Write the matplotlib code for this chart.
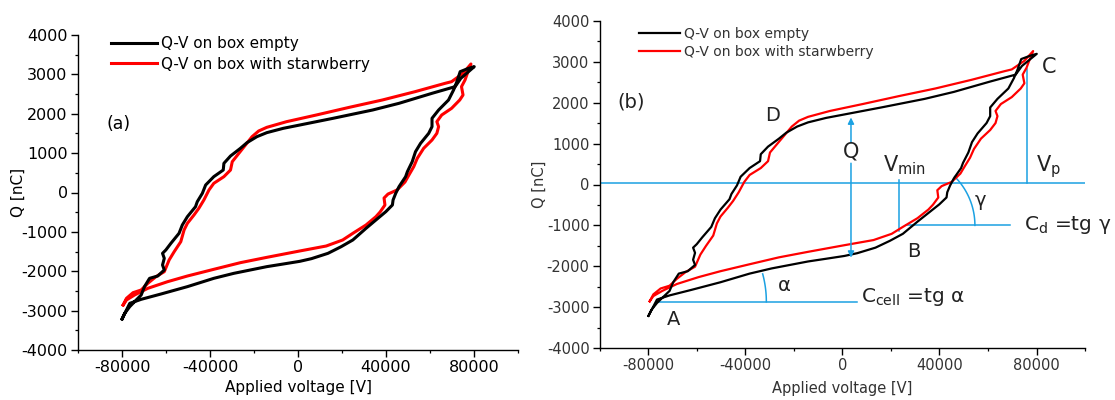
import numpy as np
import matplotlib
matplotlib.use('Agg')
import matplotlib.pyplot as plt
from matplotlib.ticker import MultipleLocator

plt.rcParams['font.family'] = ['DejaVu Sans']
plt.rcParams['axes.unicode_minus'] = False
plt.rcParams['mathtext.fontset'] = 'dejavusans'

# ---------------- data (V in volts, Q in nC) ----------------
empty_v = [-80000, -76500, -71300, -62300, -50300, -38300, -29200, -20200, -14200, -6700,
           800, 6100, 13600, 19600, 24900, 30900, 35400, 39900, 42900, 43200,
           44400, 45900, 48900, 49700, 51900, 53400, 55700, 59400, 60900, 60900,
           63900, 68400, 70700, 72200, 73700, 77500, 80100, 74000, 71400, 60900,
           45900, 33900, 15900, 800, -6700, -14200, -18700, -23200, -26200, -30700,
           -33700, -34000, -38300, -42000, -43500, -45800, -46600, -50300, -52600, -54100,
           -57800, -60100, -61600, -60800, -61600, -60800, -63800, -67500, -69800, -71300,
           -74300, -76500, -78800, -80000]
empty_q = [-3213, -2815, -2713, -2578, -2391, -2180, -2053, -1951, -1883, -1816,
           -1748, -1680, -1545, -1376, -1206, -910, -698, -487, -317, -190,
           -21, 148, 402, 529, 783, 1037, 1249, 1503, 1672, 1884,
           2095, 2349, 2603, 2815, 3069, 3153, 3196, 2900, 2688, 2519,
           2265, 2095, 1884, 1714, 1630, 1520, 1418, 1266, 1122, 927,
           741, 571, 402, 190, -21, -233, -360, -614, -825, -1037,
           -1291, -1460, -1545, -1672, -1841, -1968, -2121, -2180, -2391, -2603,
           -2772, -2899, -3069, -3213]

straw_v = [-79500, -78000, -74300, -68300, -59300, -50300, -38300, -26200, -14200, 800,
           12800, 20300, 24900, 30900, 35400, 37300, 39500, 39100, 40900, 45000,
           48600, 50400, 52600, 54200, 57100, 60900, 63100, 63900, 63100, 65300,
           69800, 73500, 75000, 74300, 75900, 76700, 78600, 75000, 69800, 66800,
           53200, 38300, 23300, 8300, -5200, -14200, -17900, -20900, -23900, -26900,
           -29900, -30700, -33700, -38300, -40500, -42800, -45100, -47300, -50300, -51800,
           -53300, -56300, -58600, -60800, -64600, -68300, -71300, -75000, -78000, -79500]
straw_q = [-2857, -2730, -2603, -2434, -2265, -2121, -1951, -1782, -1647, -1485,
           -1359, -1206, -1037, -825, -614, -495, -318, -140, -39, 63,
           266, 444, 656, 868, 1122, 1333, 1503, 1672, 1799, 1968,
           2138, 2349, 2476, 2688, 2857, 2984, 3264, 3026, 2815, 2772,
           2561, 2349, 2163, 1968, 1799, 1655, 1562, 1418, 1206, 995,
           783, 571, 402, 233, 63, -190, -402, -571, -783, -952,
           -1249, -1503, -1714, -2011, -2138, -2307, -2476, -2544, -2688, -2857]

series_labels = ['Q-V on box empty', 'Q-V on box with starwberry']
series_colors = ['black', '#ff0000']
x_ticks = [-80000, -40000, 0, 40000, 80000]
y_ticks = [-4000, -3000, -2000, -1000, 0, 1000, 2000, 3000, 4000]
x_label = 'Applied voltage [V]'
y_label = 'Q [nC]'

BLUE = '#1ba1e2'

fig = plt.figure(figsize=(11.15, 4.0), dpi=100)
ax_a = fig.add_axes([0.0700, 0.125, 0.3946, 0.7875])
ax_b = fig.add_axes([0.5381, 0.130, 0.4350, 0.8175])


def style_axes(ax, fs, lfs, lbl_color, ylab_x, xlab_y):
    ax.set_xlim(-100000, 100000)
    ax.set_ylim(-4000, 4000)
    ax.set_xticks(x_ticks)
    ax.set_yticks(y_ticks)
    ax.set_xticklabels([str(t) for t in x_ticks])
    ax.set_yticklabels([str(t) for t in y_ticks])
    ax.xaxis.set_minor_locator(MultipleLocator(20000))
    ax.yaxis.set_minor_locator(MultipleLocator(500))
    for s in ['top', 'right']:
        ax.spines[s].set_visible(False)
    for s in ['left', 'bottom']:
        ax.spines[s].set_linewidth(1.0)
    ax.tick_params(which='major', direction='out', length=5, width=1.0,
                   labelsize=fs, labelcolor=lbl_color, pad=2.5)
    ax.tick_params(which='minor', direction='out', length=2.5, width=0.9)
    ax.set_xlabel(x_label, fontsize=lfs, color=lbl_color)
    ax.set_ylabel(y_label, fontsize=lfs, color=lbl_color)
    ax.yaxis.set_label_coords(ylab_x, 0.5)
    ax.xaxis.set_label_coords(0.5, xlab_y)


# ---------------- panel (a) ----------------
ax_a.plot(empty_v, empty_q, color=series_colors[0], lw=2.2, label=series_labels[0],
          solid_joinstyle='round', zorder=3)
ax_a.plot(straw_v, straw_q, color=series_colors[1], lw=2.2, label=series_labels[1],
          solid_joinstyle='round', zorder=2)
style_axes(ax_a, 11.5, 11, 'black', -0.118, -0.095)
ax_a.legend(loc='upper left', bbox_to_anchor=(0.075, 0.997), frameon=False,
            fontsize=11, handlelength=3.0, handletextpad=0.3, labelspacing=0.38,
            borderpad=0, borderaxespad=0)
ax_a.text(-81400, 1740, '(a)', fontsize=12.5, ha='center', va='center')

# ---------------- panel (b) ----------------
ax_b.plot(empty_v, empty_q, color=series_colors[0], lw=1.6, label=series_labels[0],
          solid_joinstyle='round', zorder=3)
ax_b.plot(straw_v, straw_q, color=series_colors[1], lw=1.6, label=series_labels[1],
          solid_joinstyle='round', zorder=2)
style_axes(ax_b, 10.5, 10.5, '#333333', -0.109, -0.10)
ax_b.legend(loc='upper left', bbox_to_anchor=(0.08, 0.982), frameon=False,
            fontsize=10, handlelength=3.0, handletextpad=0.25, labelspacing=0.3,
            borderpad=0, borderaxespad=0, labelcolor='#333333')

lw_b = 1.1
# reference lines
ax_b.axhline(45, color=BLUE, lw=lw_b, zorder=1)
ax_b.plot([76100, 76100], [45, 2820], color=BLUE, lw=lw_b, zorder=1)
ax_b.plot([23300, 23300], [120, -1130], color=BLUE, lw=lw_b, zorder=1)
ax_b.plot([26200, 69100], [-1000, -1000], color=BLUE, lw=lw_b, zorder=1)
ax_b.plot([-75900, 5900], [-2870, -2870], color=BLUE, lw=lw_b, zorder=1)

# Q double arrow (split by label)
ax_b.annotate('', xy=(3500, 1640), xytext=(3500, 1020),
              arrowprops=dict(arrowstyle='-|>', color=BLUE, lw=lw_b,
                              mutation_scale=9, shrinkA=0, shrinkB=0))
ax_b.annotate('', xy=(3500, -1790), xytext=(3500, 520),
              arrowprops=dict(arrowstyle='-|>', color=BLUE, lw=lw_b,
                              mutation_scale=9, shrinkA=0, shrinkB=0))


def draw_arc(ax, center, radius_v, t1, t2):
    tr = ax.transData
    c = tr.transform(center)
    r = tr.transform((center[0] + radius_v, center[1]))[0] - c[0]
    th = np.deg2rad(np.linspace(t1, t2, 40))
    pts = np.column_stack([c[0] + r * np.cos(th), c[1] + r * np.sin(th)])
    d = tr.inverted().transform(pts)
    ax.plot(d[:, 0], d[:, 1], color=BLUE, lw=lw_b, zorder=1)


draw_arc(ax_b, (-75900, -2870), 44500, 0, 15)
draw_arc(ax_b, (26200, -1000), 28400, 0, 45)

tc = '#222222'
ax_b.text(-93000, 2022, '(b)', fontsize=14, ha='left', va='center', color=tc)
ax_b.text(-28900, 1695, 'D', fontsize=14, ha='center', va='center', color=tc)
ax_b.text(3500, 797, 'Q', fontsize=15, ha='center', va='center', color=tc)
ax_b.text(16500, 470, r'$\mathregular{V_{min}}$', fontsize=15, ha='left', va='center', color=tc)
ax_b.text(79700, 430, r'$\mathregular{V_{p}}$', fontsize=15, ha='left', va='center', color=tc)
ax_b.text(82100, 2880, 'C', fontsize=15, ha='left', va='center', color=tc)
ax_b.text(29400, -1630, 'B', fontsize=14, ha='center', va='center', color=tc)
ax_b.text(-69800, -3305, 'A', fontsize=14, ha='center', va='center', color=tc)
ax_b.text(-24100, -2471, 'α', fontsize=14, ha='center', va='center', color=tc)
ax_b.text(57000, -390, 'γ', fontsize=14, ha='center', va='center', color=tc)
ax_b.text(74800, -1000, r'$\mathregular{C_{d}}$ =tg γ', fontsize=14.5, ha='left', va='center', color=tc)
ax_b.text(7500, -2757, r'$\mathregular{C_{cell}}$ =tg α', fontsize=14.5, ha='left', va='center', color=tc)

fig.savefig('out.png', dpi=100)
